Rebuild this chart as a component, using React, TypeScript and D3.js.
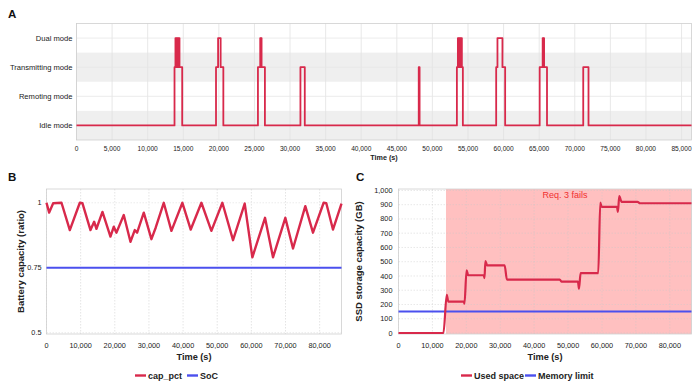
import * as d3 from 'd3';

const DAY_END = 86400;

// Panel A: operating mode over one day, as [time (s), mode] change points
const modeNames = ['Dual mode', 'Transmitting mode', 'Remoting mode', 'Idle mode'];
const modeSteps: [number, string][] = [
  [0, 'Idle mode'],
  [13770, 'Transmitting mode'],
  [13900, 'Dual mode'], [13980, 'Transmitting mode'], [14050, 'Dual mode'], [14120, 'Transmitting mode'],
  [14190, 'Dual mode'], [14260, 'Transmitting mode'], [14330, 'Dual mode'], [14470, 'Transmitting mode'],
  [14850, 'Idle mode'],
  [19600, 'Transmitting mode'], [19890, 'Dual mode'], [20250, 'Transmitting mode'], [20630, 'Idle mode'],
  [25490, 'Transmitting mode'], [25810, 'Dual mode'], [25880, 'Transmitting mode'], [25940, 'Dual mode'],
  [26000, 'Transmitting mode'], [26470, 'Idle mode'],
  [31460, 'Transmitting mode'], [32070, 'Idle mode'],
  [48080, 'Transmitting mode'], [48200, 'Idle mode'],
  [53440, 'Transmitting mode'], [53580, 'Dual mode'], [53660, 'Transmitting mode'], [53730, 'Dual mode'],
  [53800, 'Transmitting mode'], [53870, 'Dual mode'], [53940, 'Transmitting mode'], [54010, 'Dual mode'],
  [54140, 'Transmitting mode'], [54280, 'Idle mode'],
  [58960, 'Transmitting mode'], [59140, 'Dual mode'], [59840, 'Transmitting mode'], [60220, 'Idle mode'],
  [65070, 'Transmitting mode'], [65490, 'Dual mode'], [65560, 'Transmitting mode'], [65620, 'Dual mode'],
  [65690, 'Transmitting mode'], [66100, 'Idle mode'],
  [71190, 'Transmitting mode'], [71930, 'Idle mode'],
  [DAY_END, 'Idle mode'],
];
const bandedModes = ['Transmitting mode', 'Idle mode'];
const ticksA = [0, 5000, 10000, 15000, 20000, 25000, 30000, 35000, 40000, 45000, 50000, 55000, 60000, 65000, 70000, 75000, 80000, 85000];

// Panel B: battery capacity ratio
const capTimes = [0, 780, 1950, 4390, 6830, 9760, 10540, 12880, 13950, 14630, 16390, 18730, 19710, 20490, 22630,
  24590, 25850, 26540, 28490, 30730, 32000, 34340, 36590, 39800, 42240, 45370, 48290, 51510, 54630, 58050,
  60290, 64000, 66340, 69950, 72200, 75800, 78050, 81170, 81950, 83900, 86400];
const capValues = [1.0, 0.962, 0.998, 1.0, 0.895, 1.0, 0.998, 0.895, 0.927, 0.9, 0.965, 0.87, 0.908, 0.885, 0.953,
  0.85, 0.895, 0.885, 0.962, 0.86, 0.905, 1.0, 0.892, 1.0, 0.897, 1.0, 0.892, 1.0, 0.856, 0.997,
  0.79, 0.942, 0.79, 0.942, 0.824, 0.987, 0.885, 1.0, 0.998, 0.897, 0.997];
const socLevel = 0.75;
const ticksB = [0, 10000, 20000, 30000, 40000, 50000, 60000, 70000, 80000];
const yTicksB = [0.5, 0.75, 1];

// Panel C: SSD used space (GB)
const usedTimes = [0, 13250, 14230, 14700, 19300, 19450, 20080, 20560, 25150, 25350, 25630, 26120, 31290, 31970,
  47560, 48050, 52920, 53220, 53700, 58900, 59500, 59900, 64420, 64700, 65100, 65790, 70470, 71250, 86400];
const usedGB = [0, 0, 267, 220, 220, 205, 440, 405, 405, 385, 505, 475, 475, 375,
  375, 360, 360, 310, 420, 420, 915, 885, 885, 850, 960, 920, 920, 910, 910];
const memoryLimit = 150;
const failStart = 14000;
const yTicksC = [0, 100, 200, 300, 400, 500, 600, 700, 800, 900, 1000];

const RED = '#d8294b';
const BLUE = '#4b50ee';
const FONT = '"Liberation Sans", Arial, sans-serif';
const fmt = d3.format(',');

export default function App() {
  // ---- panel A
  const ax = d3.scaleLinear().domain([0, DAY_END]).range([76.5, 691.5]);
  const ay = d3.scaleBand<string>().domain(modeNames).range([23.5, 140]);
  const aMid = (m: string) => (ay(m) ?? 0) + ay.bandwidth() / 2;
  const modeLine = d3.line<[number, string]>()
    .x(d => ax(d[0]))
    .y(d => aMid(d[1]))
    .curve(d3.curveStepAfter);

  // ---- panel B
  const bx = d3.scaleLinear().domain([0, DAY_END]).range([46.5, 341.5]);
  const by = d3.scaleLinear().domain([0.495, 1.053]).range([334, 189]);
  const capLine = d3.line<number>()
    .x((_, i) => bx(capTimes[i]))
    .y(d => by(d));

  // ---- panel C
  const cx = d3.scaleLinear().domain([0, DAY_END]).range([398.5, 691.5]);
  const cy = d3.scaleLinear().domain([-7, 1010]).range([334, 189]);
  const usedLine = d3.line<number>()
    .x((_, i) => cx(usedTimes[i]))
    .y(d => cy(d))
    .curve(d3.curveMonotoneX);

  const [bL, bR] = bx.range();
  const [bB, bT] = by.range();
  const [cL, cR] = cx.range();
  const [cB, cT] = cy.range();
  const [aL, aR] = ax.range();
  const [aT, aB] = ay.range();

  return (
    <svg width={700} height={385} style={{ position: 'absolute', left: 0, top: 0, background: '#fff' }}
      fontFamily={FONT}>
      {/* ===== A ===== */}
      <text x={8} y={18} fontSize={11.5} fontWeight="bold" fill="#111">A</text>
      {modeNames.filter(m => bandedModes.includes(m)).map(m => (
        <rect key={m} x={aL} y={ay(m)} width={aR - aL} height={ay.bandwidth()} fill="#efefef" />
      ))}
      {ticksA.map(t => (
        <line key={t} x1={ax(t)} x2={ax(t)} y1={aT} y2={aB} stroke="#e2e2e2" strokeWidth={0.8} />
      ))}
      {modeNames.map(m => (
        <line key={m} x1={aL} x2={aR} y1={aMid(m)} y2={aMid(m)} stroke="#e6e6e6" strokeWidth={0.8} />
      ))}
      <rect x={aL} y={aT} width={aR - aL} height={aB - aT} fill="none" stroke="#cfcfcf" strokeWidth={0.8} />
      <path d={modeLine(modeSteps) ?? ''} fill="none" stroke={RED} strokeWidth={1.8} strokeLinejoin="round" />
      {modeNames.map(m => (
        <text key={m} x={aL - 4} y={aMid(m)} dy="0.35em" textAnchor="end" fontSize={7.6} fill="#222">{m}</text>
      ))}
      {ticksA.map(t => (
        <text key={t} x={ax(t)} y={150.5} textAnchor="middle" fontSize={6.6} fill="#222">{fmt(t)}</text>
      ))}
      <text x={(aL + aR) / 2} y={160} textAnchor="middle" fontSize={7.2} fontWeight="bold" fill="#222">Time (s)</text>

      {/* ===== B ===== */}
      <text x={8} y={181} fontSize={11.5} fontWeight="bold" fill="#111">B</text>
      {ticksB.map(t => (
        <line key={t} x1={bx(t)} x2={bx(t)} y1={bT} y2={bB} stroke="#d8d8d8" strokeWidth={0.7} strokeDasharray="1.5,1.5" />
      ))}
      {yTicksB.map(v => (
        <line key={v} x1={bL} x2={bR} y1={by(v)} y2={by(v)} stroke="#e2e2e2" strokeWidth={0.7} strokeDasharray="1.5,1.5" />
      ))}
      <rect x={bL} y={bT} width={bR - bL} height={bB - bT} fill="none" stroke="#cfcfcf" strokeWidth={0.8} />
      <line x1={bL} x2={bR} y1={by(socLevel)} y2={by(socLevel)} stroke={BLUE} strokeWidth={2} />
      <path d={capLine(capValues) ?? ''} fill="none" stroke={RED} strokeWidth={2.4} strokeLinejoin="round" />
      {yTicksB.map(v => (
        <text key={v} x={bL - 5} y={by(v)} dy="0.35em" textAnchor="end" fontSize={7.3} fill="#222">{String(v)}</text>
      ))}
      {ticksB.map(t => (
        <text key={t} x={bx(t)} y={347.5} textAnchor="middle" fontSize={7.3} fill="#222">{fmt(t)}</text>
      ))}
      <text x={(bL + bR) / 2} y={360} textAnchor="middle" fontSize={9.2} fontWeight="bold" fill="#222">Time (s)</text>
      <text transform={`translate(23.5,${(bT + bB) / 2}) rotate(-90)`} textAnchor="middle" fontSize={9.5}
        fontWeight="bold" fill="#222">Battery capacity (ratio)</text>
      <line x1={135} x2={146} y1={375.5} y2={375.5} stroke={RED} strokeWidth={2.4} />
      <text x={148} y={375.5} dy="0.35em" fontSize={9} fontWeight="bold" fill="#222">cap_pct</text>
      <line x1={187} x2={198} y1={375.5} y2={375.5} stroke={BLUE} strokeWidth={2.4} />
      <text x={200} y={375.5} dy="0.35em" fontSize={9} fontWeight="bold" fill="#222">SoC</text>

      {/* ===== C ===== */}
      <text x={356} y={181} fontSize={11.5} fontWeight="bold" fill="#111">C</text>
      <rect x={cx(failStart)} y={cT} width={cR - cx(failStart)} height={cB - cT} fill="#ffc0c0" />
      {ticksB.map(t => (
        <line key={t} x1={cx(t)} x2={cx(t)} y1={cT} y2={cB} stroke="#c8c8c8" strokeOpacity={0.6} strokeWidth={0.7} strokeDasharray="1.5,1.5" />
      ))}
      {yTicksC.map(v => (
        <line key={v} x1={cL} x2={cR} y1={cy(v)} y2={cy(v)} stroke="#c8c8c8" strokeOpacity={0.6} strokeWidth={0.7} strokeDasharray="1.5,1.5" />
      ))}
      <rect x={cL} y={cT} width={cR - cL} height={cB - cT} fill="none" stroke="#cfcfcf" strokeWidth={0.8} />
      <text x={542.5} y={197.5} fontSize={9} fill="#f03030">Req. 3 fails</text>
      <line x1={cL} x2={cR} y1={cy(memoryLimit)} y2={cy(memoryLimit)} stroke={BLUE} strokeWidth={2} />
      <path d={usedLine(usedGB) ?? ''} fill="none" stroke={RED} strokeWidth={2.2} strokeLinejoin="round" />
      {yTicksC.map(v => (
        <text key={v} x={cL - 6} y={cy(v)} dy="0.35em" textAnchor="end" fontSize={7.3} fill="#222">{fmt(v)}</text>
      ))}
      {ticksB.map(t => (
        <text key={t} x={cx(t)} y={347.5} textAnchor="middle" fontSize={7.3} fill="#222">{fmt(t)}</text>
      ))}
      <text x={(cL + cR) / 2} y={360} textAnchor="middle" fontSize={9.2} fontWeight="bold" fill="#222">Time (s)</text>
      <text transform={`translate(362,${(cT + cB) / 2}) rotate(-90)`} textAnchor="middle" fontSize={9.5}
        fontWeight="bold" fill="#222">SSD storage capacity (GB)</text>
      <line x1={461} x2={472} y1={375.5} y2={375.5} stroke={RED} strokeWidth={2.4} />
      <text x={474} y={375.5} dy="0.35em" fontSize={9} fontWeight="bold" fill="#222">Used space</text>
      <line x1={525} x2={536} y1={375.5} y2={375.5} stroke={BLUE} strokeWidth={2.4} />
      <text x={538} y={375.5} dy="0.35em" fontSize={9} fontWeight="bold" fill="#222">Memory limit</text>
    </svg>
  );
}
